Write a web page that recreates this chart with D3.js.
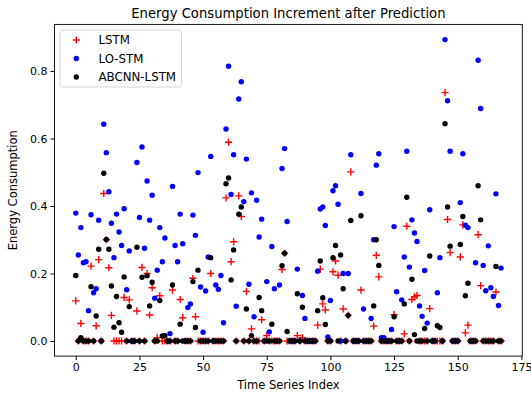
<!DOCTYPE html>
<html>
<head>
<meta charset="utf-8">
<script src="https://cdn.jsdelivr.net/npm/d3@7"></script>
<style>
  html, body { margin: 0; padding: 0; background: #fff; }
  svg { display: block; font-family: "DejaVu Sans", sans-serif; }
</style>
</head>
<body>
<svg id="chart" width="531" height="399"></svg>
<script>
const N = 168;
const seriesNames = ["LSTM", "LO-STM", "ABCNN-LSTM"];
const xTicks = [0, 25, 50, 75, 100, 125, 150, 175];
const yTicks = [0.0, 0.2, 0.4, 0.6, 0.8];

// non-zero values by index; all other indices are 0
const lstmNonZero = [
  [0,0.119],[2,0.052],[6,0.222],[8,0.045],[9,0.241],[11,0.437],[12,0.30],[13,0.217],[14,0.076],
  [19,0.129],[21,0.122],[24,0.089],[26,0.218],[28,0.2],[29,0.077],[30,0.158],[32,0.01],[33,0.134],
  [38,0.151],[41,0.123],[42,0.069],[46,0.186],[47,0.072],[53,0.2],[59,0.424],[60,0.589],[61,0.235],
  [62,0.294],[64,0.43],[65,0.369],[67,0.147],[69,0.036],[73,0.063],[75,0.016],[81,0.212],[82,0.26],
  [87,0.016],[89,0.01],[95,0.047],[96,0.213],[97,0.11],[98,0.092],[101,0.205],[102,0.237],[103,0.195],
  [105,0.095],[107,0.076],[108,0.501],[112,0.151],[117,0.044],[118,0.254],[119,0.19],[125,0.078],
  [129,0.021],[130,0.34],[132,0.123],[133,0.131],[134,0.135],[139,0.096],[145,0.736],[146,0.36],
  [147,0.262],[151,0.249],[152,0.344],[153,0.024],[154,0.047],[158,0.315],[159,0.164],[165,0.145]
];
const lostmNonZero = [
  [0,0.379],[1,0.255],[2,0.336],[3,0.232],[4,0.235],[5,0.09],[6,0.374],[7,0.143],[8,0.155],[9,0.358],
  [11,0.642],[12,0.558],[13,0.442],[14,0.349],[15,0.247],[16,0.376],[17,0.323],[18,0.283],[19,0.392],
  [20,0.152],[21,0.267],[24,0.529],[25,0.366],[26,0.575],[27,0.275],[28,0.474],[29,0.358],[30,0.432],
  [31,0.127],[32,0.21],[33,0.336],[34,0.235],[35,0.305],[37,0.022],[38,0.458],[39,0.283],[40,0.235],
  [41,0.376],[42,0.288],[44,0.099],[45,0.11],[46,0.373],[47,0.313],[48,0.499],[49,0.16],[50,0.026],
  [51,0.148],[52,0.249],[53,0.547],[55,0.166],[56,0.153],[57,0.194],[58,0.054],[59,0.628],[60,0.814],
  [61,0.434],[62,0.552],[63,0.103],[64,0.717],[65,0.768],[66,0.413],[67,0.539],[68,0.168],[69,0.439],
  [70,0.072],[71,0.417],[72,0.308],[73,0.361],[75,0.176],[76,0.027],[77,0.28],[78,0.155],[80,0.166],
  [81,0.511],[82,0.57],[83,0.354],[87,0.213],[89,0.135],[90,0.067],[95,0.207],[96,0.391],[97,0.397],
  [98,0.342],[99,0.012],[100,0.12],[101,0.445],[102,0.46],[103,0.405],[105,0.2],[107,0.2],[108,0.552],
  [112,0.437],[113,0.095],[116,0.067],[117,0.3],[118,0.521],[119,0.555],[120,0.01],[121,0.01],
  [124,0.034],[125,0.339],[126,0.146],[128,0.122],[129,0.249],[130,0.562],[131,0.219],[132,0.359],
  [133,0.32],[134,0.295],[135,0.104],[136,0.073],[137,0.209],[138,0.053],[139,0.389],[142,0.143],
  [143,0.247],[145,0.893],[146,0.712],[147,0.562],[151,0.41],[152,0.555],[153,0.343],[154,0.336],
  [157,0.232],[158,0.832],[159,0.689],[160,0.224],[161,0.149],[162,0.282],[163,0.158],[164,0.132],
  [165,0.436],[166,0.105],[167,0.216]
];
const abcnnNonZero = [
  [0,0.194],[2,0.01],[6,0.161],[8,0.074],[9,0.272],[11,0.497],[12,0.301],[13,0.272],[14,0.163],
  [15,0.041],[16,0.132],[17,0.054],[18,0.026],[19,0.19],[21,0.102],[24,0.278],[26,0.189],[28,0.193],
  [29,0.104],[30,0.174],[33,0.12],[34,0.015],[35,0.016],[38,0.166],[41,0.05],[46,0.176],[47,0.04],
  [48,0.21],[53,0.247],[59,0.466],[60,0.483],[61,0.181],[62,0.27],[64,0.376],[65,0.397],[67,0.095],
  [69,0.016],[72,0.129],[73,0.09],[77,0.05],[81,0.223],[82,0.26],[83,0.028],[87,0.14],[89,0.1],
  [95,0.09],[96,0.237],[97,0.128],[98,0.049],[101,0.247],[102,0.283],[104,0.255],[105,0.155],
  [107,0.076],[108,0.357],[112,0.371],[117,0.104],[118,0.3],[119,0.224],[125,0.072],[129,0.11],
  [130,0.426],[132,0.183],[133,0.019],[137,0.037],[139,0.252],[142,0.045],[143,0.04],[145,0.644],
  [146,0.397],[147,0.281],[151,0.286],[152,0.369],[153,0.134],[154,0.171],[158,0.46],[159,0.359],
  [165,0.221]
];

function expand(pairs) {
  const arr = new Array(N).fill(0);
  pairs.forEach(([i, v]) => { arr[i] = v; });
  return arr;
}
const lstmValues = expand(lstmNonZero);
const lostmValues = expand(lostmNonZero);
const abcnnValues = expand(abcnnNonZero);

const svg = d3.select("#chart");
const pLeft = 54.5, pRight = 522.3, pTop = 24.4, pBottom = 356.1;

const x = d3.scaleLinear().domain([-8.35, 175.35]).range([pLeft, pRight]);
const y = d3.scaleLinear().domain([-0.0447, 0.938]).range([pBottom, pTop]);

const plot = svg.append("g");

// LSTM: red plus
plot.append("g").selectAll("path")
  .data(lstmValues)
  .join("path")
  .attr("d", (d, i) => {
    const cx = x(i), cy = y(d), s = 3.6;
    return `M${cx - s},${cy}H${cx + s}M${cx},${cy - s}V${cy + s}`;
  })
  .attr("stroke", "#ff0000")
  .attr("stroke-width", 1.4)
  .attr("fill", "none");

// LO-STM: blue dots
plot.append("g").selectAll("circle")
  .data(lostmValues)
  .join("circle")
  .attr("cx", (d, i) => x(i))
  .attr("cy", d => y(d))
  .attr("r", 2.7)
  .attr("fill", "#0000ff");

// ABCNN-LSTM: black dots
plot.append("g").selectAll("circle")
  .data(abcnnValues)
  .join("circle")
  .attr("cx", (d, i) => x(i))
  .attr("cy", d => y(d))
  .attr("r", 2.7)
  .attr("fill", "#000000");

// spines
svg.append("rect")
  .attr("x", pLeft).attr("y", pTop)
  .attr("width", pRight - pLeft).attr("height", pBottom - pTop)
  .attr("fill", "none").attr("stroke", "#000").attr("stroke-width", 0.9);

const xAxis = svg.append("g")
  .attr("transform", `translate(0,${pBottom})`)
  .call(d3.axisBottom(x).tickValues(xTicks).tickSize(4).tickPadding(3).tickFormat(d3.format("d")));
xAxis.select(".domain").remove();
xAxis.selectAll("text").attr("font-size", 11).attr("font-family", "DejaVu Sans").attr("fill", "#000");

const yAxis = svg.append("g")
  .attr("transform", `translate(${pLeft},0)`)
  .call(d3.axisLeft(y).tickValues(yTicks).tickSize(4).tickPadding(3).tickFormat(d3.format(".1f")));
yAxis.select(".domain").remove();
yAxis.selectAll("text").attr("font-size", 11).attr("font-family", "DejaVu Sans").attr("fill", "#000");

// title and labels
svg.append("text")
  .attr("x", (pLeft + pRight) / 2).attr("y", 18)
  .attr("text-anchor", "middle")
  .attr("font-size", 13.2)
  .text("Energy Consumption Increment after Prediction");

svg.append("text")
  .attr("x", (pLeft + pRight) / 2).attr("y", 389)
  .attr("text-anchor", "middle")
  .attr("font-size", 11.5)
  .text("Time Series Index");

svg.append("text")
  .attr("transform", `translate(17,${(pTop + pBottom) / 2}) rotate(-90)`)
  .attr("text-anchor", "middle")
  .attr("font-size", 11.5)
  .text("Energy Consumption");

// legend
const legend = svg.append("g");
legend.append("rect")
  .attr("x", 60).attr("y", 30).attr("width", 121.5).attr("height", 57)
  .attr("rx", 3).attr("fill", "#fff").attr("fill-opacity", 0.8)
  .attr("stroke", "#d0d0d0").attr("stroke-width", 0.9);
const ly = [40, 58.5, 77];
const lx = 76.3;
legend.append("path")
  .attr("d", `M${lx - 3.6},${ly[0]}H${lx + 3.6}M${lx},${ly[0] - 3.6}V${ly[0] + 3.6}`)
  .attr("stroke", "#ff0000").attr("stroke-width", 1.4);
legend.append("circle").attr("cx", lx).attr("cy", ly[1]).attr("r", 2.7).attr("fill", "#0000ff");
legend.append("circle").attr("cx", lx).attr("cy", ly[2]).attr("r", 2.7).attr("fill", "#000");
legend.selectAll("text.lbl")
  .data(seriesNames)
  .join("text")
  .attr("class", "lbl")
  .attr("x", 98.5)
  .attr("y", (d, i) => ly[i] + 4.2)
  .attr("font-size", 11.8)
  .text(d => d);
</script>
</body>
</html>
